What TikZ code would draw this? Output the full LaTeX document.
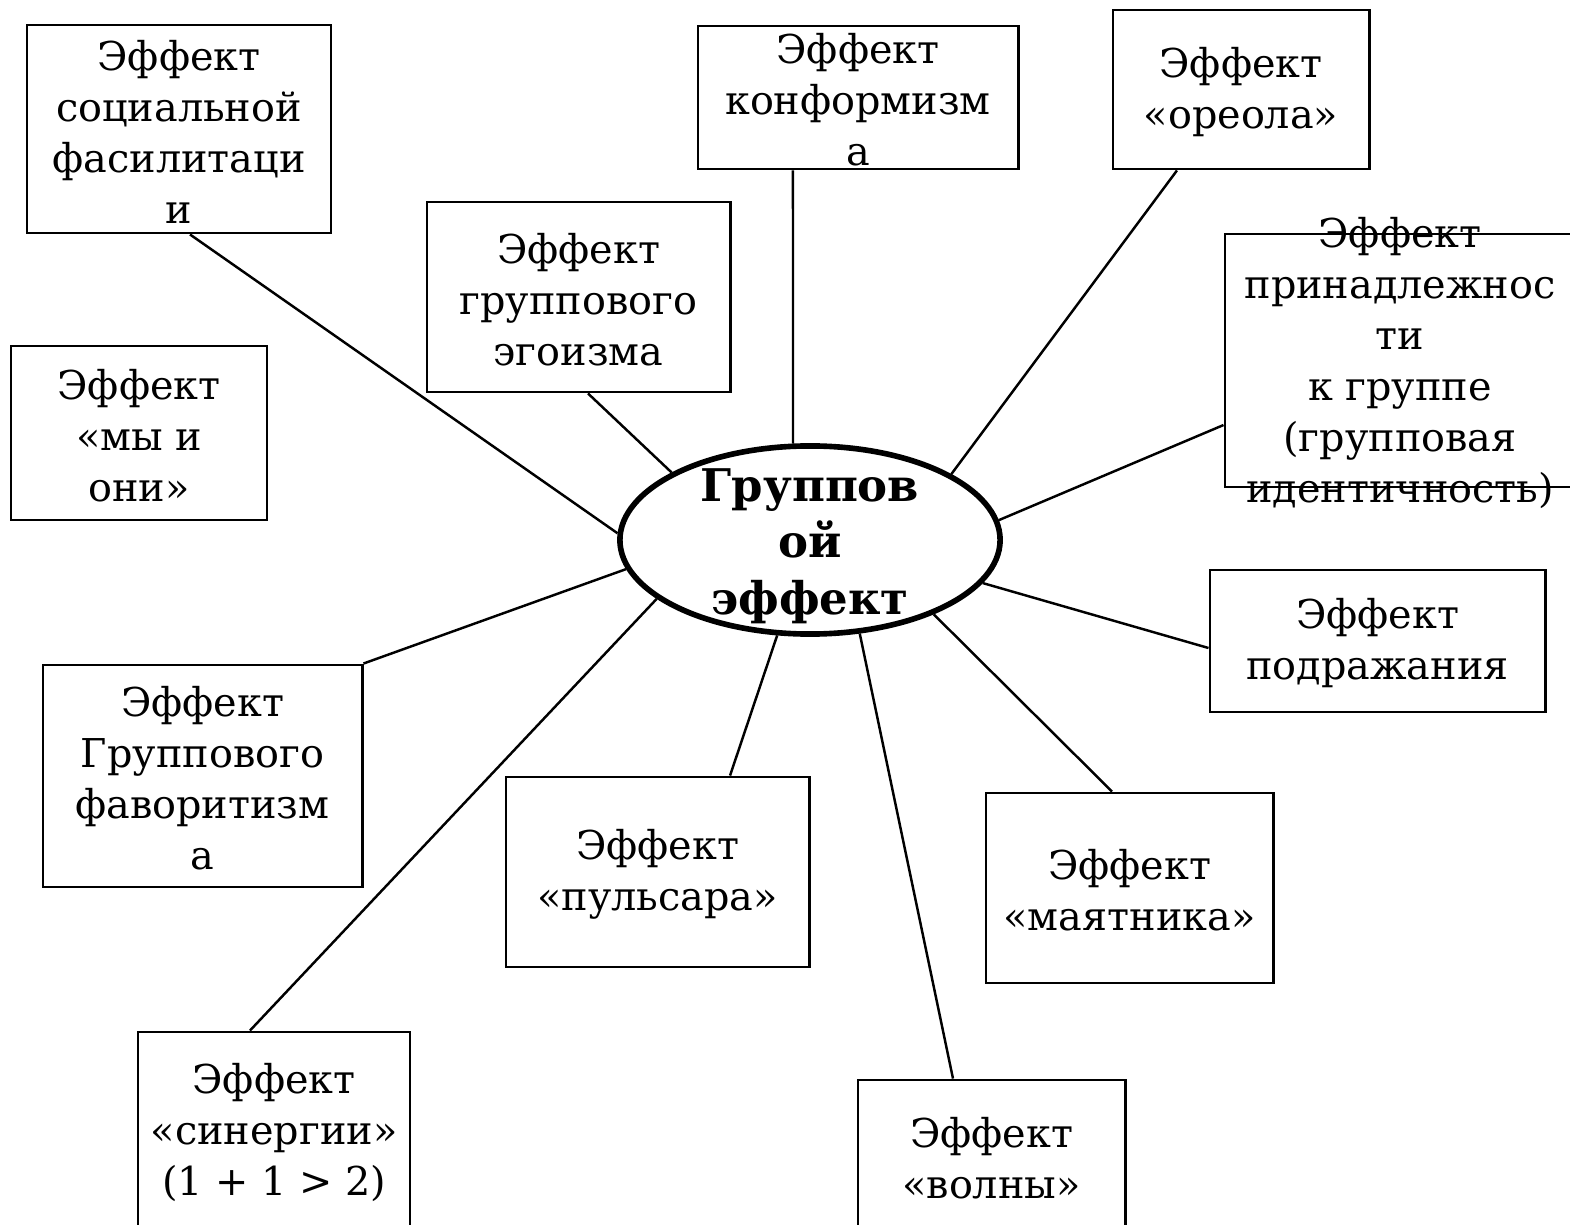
\documentclass[tikz,border=0pt]{standalone}
\usepackage{fontspec}
\setmainfont{DejaVu Serif}
\usetikzlibrary{shapes.geometric}
\tikzset{
  effbox/.style={draw, line width=0.8pt, inner sep=0pt},
  efftxt/.style={align=center, yshift=-0.025cm, font=\fontsize{11.3}{14.5}\selectfont},
  hub/.style={ellipse, draw, line width=1.6pt, inner sep=0pt, minimum width=3.8cm, minimum height=1.88cm},
  hubtxt/.style={align=center, yshift=-0.06cm, font=\fontsize{12.8}{16.1}\selectfont\bfseries},
  link/.style={line width=0.7pt}
}
\begin{document}
\begin{tikzpicture}[x=0.01cm,y=-0.01cm]
  \useasboundingbox (0,0) rectangle (1570,1225);

  % centre
  \node[hub, label={[hubtxt]center:{Группов\\ой\\эффект}}] (c) at (810,540) {};

  % effects
  \node[effbox, minimum width=3.04cm, minimum height=2.08cm, label={[efftxt]center:{Эффект\\социальной\\фасилитаци\\и}}] (soc) at (179,129) {};
  \node[effbox, minimum width=3.20cm, minimum height=1.43cm, label={[efftxt]center:{Эффект\\конформизм\\а}}] (konf) at (858,97.5) {};
  \node[effbox, minimum width=2.56cm, minimum height=1.59cm, label={[efftxt]center:{Эффект\\«ореола»}}] (oreol) at (1241,89.5) {};
  \node[effbox, minimum width=3.03cm, minimum height=1.90cm, label={[efftxt]center:{Эффект\\группового\\эгоизма}}] (ego) at (578.5,297) {};
  \node[effbox, minimum width=3.50cm, minimum height=2.53cm, label={[efftxt]center:{Эффект\\принадлежнос\\ти\\к группе\\(групповая\\идентичность)}}] (prin) at (1400,360.5) {};
  \node[effbox, minimum width=2.56cm, minimum height=1.74cm, label={[efftxt]center:{Эффект\\«мы и\\они»}}] (my) at (139,433) {};
  \node[effbox, minimum width=3.35cm, minimum height=1.42cm, label={[efftxt]center:{Эффект\\подражания}}] (podr) at (1377.5,641) {};
  \node[effbox, minimum width=3.19cm, minimum height=2.22cm, label={[efftxt]center:{Эффект\\Группового\\фаворитизм\\а}}] (fav) at (202.5,776) {};
  \node[effbox, minimum width=3.03cm, minimum height=1.90cm, label={[efftxt]center:{Эффект\\«пульсара»}}] (puls) at (657.5,872) {};
  \node[effbox, minimum width=2.87cm, minimum height=1.90cm, label={[efftxt]center:{Эффект\\«маятника»}}] (mayat) at (1129.5,888) {};
  \node[effbox, minimum width=2.72cm, minimum height=1.96cm, label={[efftxt]center:{Эффект\\«синергии»\\(1 + 1 > 2)}}] (sin) at (274,1130) {};
  \node[effbox, minimum width=2.67cm, minimum height=1.52cm, label={[efftxt]center:{Эффект\\«волны»}}] (voln) at (991.5,1156) {};

  % links
  \draw[link] (c.178) -- ([xshift=0.11cm]soc.south);
  \draw[link] (c.154) -- ([xshift=0.095cm]ego.south);
  \draw[link] (c.100) -- ([xshift=-0.65cm]konf.south);
  \draw[link] (c.25) -- ([xshift=-0.64cm]oreol.south);
  \draw[link] (c.6) -- ([yshift=-0.645cm]prin.west);
  \draw[link] (c.-14) -- ([yshift=-0.07cm]podr.west);
  \draw[link] (c.-31) -- ([xshift=-0.175cm]mayat.north);
  \draw[link] (c.-62) -- ([xshift=-0.385cm]voln.north);
  \draw[link] (c.-109) -- ([xshift=0.725cm]puls.north);
  \draw[link] (c.-159) -- ([xshift=-0.24cm]sin.north);
  \draw[link] (c.-171) -- (fav.north east);
\end{tikzpicture}
\end{document}
